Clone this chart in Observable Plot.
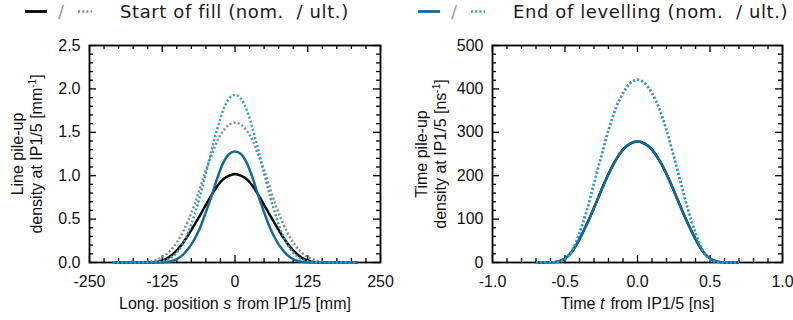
<!DOCTYPE html>
<html>
<head>
<meta charset="utf-8">
<script src="https://cdn.jsdelivr.net/npm/d3@7"></script>
<script src="https://cdn.jsdelivr.net/npm/@observablehq/plot@0.6"></script>
<style>
  body { margin: 0; background: #fff; }
  #wrap { position: relative; width: 793px; height: 320px; overflow: hidden; background: #fff; }
  #plots { position: absolute; left: 0; top: 0; display: flex; z-index: 1; }
  #legend { position: absolute; left: 0; top: 0; z-index: 2; }
  svg { display: block; }
</style>
</head>
<body>
<div id="wrap"><div id="plots"></div><div id="legend"></div></div>
<script>
// ---------- data ----------
// Left panel: longitudinal position s [mm]
const sPos = [-210,-170,-150,-140,-130,-120,-110,-100,-90,-80,-70,-60,-50,-40,-30,-20,-10,0,10,20,30,40,50,60,70,80,90,100,110,120,130,140,150,170,210];
const lineStartNom = [0,0,0.001,0.004,0.013,0.036,0.078,0.14,0.22,0.32,0.43,0.545,0.665,0.78,0.885,0.96,1.00,1.02,1.00,0.96,0.885,0.78,0.665,0.545,0.43,0.32,0.22,0.14,0.078,0.036,0.013,0.004,0.001,0,0];
const lineStartUlt = [0,0.001,0.008,0.02,0.045,0.085,0.145,0.23,0.345,0.49,0.66,0.86,1.06,1.24,1.41,1.52,1.59,1.61,1.59,1.52,1.41,1.24,1.06,0.86,0.66,0.49,0.345,0.23,0.145,0.085,0.045,0.02,0.008,0.001,0];
const lineEndNom = [0,0,0,0,0.001,0.005,0.015,0.04,0.085,0.16,0.265,0.40,0.58,0.77,0.98,1.15,1.25,1.28,1.25,1.15,0.98,0.77,0.58,0.40,0.265,0.16,0.085,0.04,0.015,0.005,0.001,0,0,0,0];
const lineEndUlt = [0,0,0.001,0.003,0.009,0.024,0.055,0.115,0.21,0.35,0.54,0.77,1.03,1.30,1.55,1.76,1.89,1.93,1.89,1.76,1.55,1.30,1.03,0.77,0.54,0.35,0.21,0.115,0.055,0.024,0.009,0.003,0.001,0,0];

// Right panel: time t [ns]
const tPos = [-0.7,-0.6,-0.55,-0.5,-0.45,-0.4,-0.35,-0.3,-0.25,-0.2,-0.15,-0.1,-0.05,0,0.05,0.1,0.15,0.2,0.25,0.3,0.35,0.4,0.45,0.5,0.55,0.6,0.7];
const timeStartNom = [0,0.3,2,9,26,54,88,126,166,204,236,260,274,279,274,260,236,204,166,126,88,54,26,9,2,0.3,0];
const timeStartUlt = [0,0.2,1.5,7,28,68,120,182,245,305,355,390,413,421,413,390,355,305,245,182,120,68,28,7,1.5,0.2,0];
const timeEndNom = [0,0.3,2,9,26,54,88,126,166,204,236,260,274,279,274,260,236,204,166,126,88,54,26,9,2,0.3,0];
const timeEndUlt = [0,0.2,1.5,7,28,68,120,182,245,305,355,390,413,421,413,390,355,305,245,182,120,68,28,7,1.5,0.2,0];

// ticks
const sMajor = [-250,-125,0,125,250];
const sMinor = [-225,-200,-175,-150,-100,-75,-50,-25,25,50,75,100,150,175,200,225];
const lineMajor = [0,0.5,1.0,1.5,2.0,2.5];
const lineMinor = [0.1,0.2,0.3,0.4,0.6,0.7,0.8,0.9,1.1,1.2,1.3,1.4,1.6,1.7,1.8,1.9,2.1,2.2,2.3,2.4];
const tMajor = [-1.0,-0.5,0,0.5,1.0];
const tMinor = [-0.9,-0.8,-0.7,-0.6,-0.4,-0.3,-0.2,-0.1,0.1,0.2,0.3,0.4,0.6,0.7,0.8,0.9];
const timeMajor = [0,100,200,300,400,500];
const timeMinor = [20,40,60,80,120,140,160,180,220,240,260,280,320,340,360,380,420,440,460,480];

// series styling
const series = [
  {key: "startNom", color: "#000000", dash: null},
  {key: "startUlt", color: "#8a8a8a", dash: "2,2.2"},
  {key: "endNom",   color: "#0f6b98", dash: null},
  {key: "endUlt",   color: "#2a9fd3", dash: "2,2.2"}
];
const legendTexts = ["Start of fill (nom.  / ult.)", "End of levelling (nom.  / ult.)"];

const H = 320, MT = 45, MB = 58;
const fontTick = "Liberation Sans, Arial, Helvetica, sans-serif";
const FS = 16;

function toRows(xs, arrs) {
  const rows = [];
  series.forEach((s, i) => xs.forEach((x, j) => rows.push({x, y: arrs[i][j], key: s.key})));
  return rows;
}

function panel(o) {
  const innerH = H - MT - MB;
  const innerW = o.width - o.marginLeft - o.marginRight;
  const rows = toRows(o.xs, o.arrs);
  const lineMarks = series.map(s => Plot.line(rows.filter(r => r.key === s.key), {
    x: "x", y: "y", stroke: s.color, strokeWidth: 2.5,
    strokeDasharray: s.dash, strokeLinecap: "butt", curve: "monotone-x"
  }));
  const tk = {stroke: "black", strokeWidth: 1.3};
  const svg = Plot.plot({
    width: o.width, height: H,
    marginTop: MT, marginBottom: MB, marginLeft: o.marginLeft, marginRight: o.marginRight,
    style: {fontFamily: fontTick, fontSize: FS + "px", color: "#111", background: "white"},
    x: {domain: o.xDomain},
    y: {domain: o.yDomain},
    marks: [
      Plot.frame({stroke: "black", strokeWidth: 1.8}),
      Plot.tickX(o.xMinor, {x: d => d, insetTop: innerH - 4, ...tk}),
      Plot.tickX(o.xMinor, {x: d => d, insetBottom: innerH - 4, ...tk}),
      Plot.tickX(o.xMajor, {x: d => d, insetTop: innerH - 7, ...tk}),
      Plot.tickX(o.xMajor, {x: d => d, insetBottom: innerH - 7, ...tk}),
      Plot.tickY(o.yMinor, {y: d => d, insetRight: innerW - 4, ...tk}),
      Plot.tickY(o.yMinor, {y: d => d, insetLeft: innerW - 4, ...tk}),
      Plot.tickY(o.yMajor, {y: d => d, insetRight: innerW - 7, ...tk}),
      Plot.tickY(o.yMajor, {y: d => d, insetLeft: innerW - 7, ...tk}),
      ...lineMarks,
      Plot.axisX(o.xMajor, {tickSize: 0, tickPadding: 13, tickFormat: o.xFmt, label: null, fontSize: FS}),
      Plot.axisY(o.yMajor, {tickSize: 0, tickPadding: 9, tickFormat: o.yFmt, label: null, fontSize: FS}),
      Plot.text([o.xLabel], {frameAnchor: "bottom", dy: 41, lineAnchor: "middle", textAnchor: "middle", text: d => d, fontSize: FS}),
      Plot.text([o.yLabel], {frameAnchor: "left", dx: o.yLabelDx, rotate: -90, lineAnchor: "middle", textAnchor: "middle", lineHeight: 1.15, text: d => d, fontSize: FS})
    ]
  });
  // italic variable in x label
  d3.select(svg).selectAll("text").each(function() {
    if (this.childElementCount === 0 && this.textContent === o.xLabel) {
      const t = d3.select(this).text(null);
      t.append("tspan").text(o.xParts[0]);
      t.append("tspan").attr("font-style", "italic").text(o.xParts[1]);
      t.append("tspan").attr("dx", 6).text(o.xParts[2]);
    }
  });
  // superscript -1 in y label
  d3.select(svg).selectAll("tspan").each(function() {
    if (this.childElementCount === 0 && this.textContent.includes("⁻¹")) {
      const base = this.textContent.replace("⁻¹]", "");
      const t = d3.select(this).text(null);
      t.append("tspan").text(base);
      t.append("tspan").attr("dy", -6).attr("font-size", 10).text("-1");
      t.append("tspan").attr("dy", 6).text("]");
    }
  });
  return svg;
}

const left = panel({
  width: 396, marginLeft: 89, marginRight: 16,
  xs: sPos, arrs: [lineStartNom, lineStartUlt, lineEndNom, lineEndUlt],
  xDomain: [-250, 250], yDomain: [0, 2.5],
  xMajor: sMajor, xMinor: sMinor, yMajor: lineMajor, yMinor: lineMinor,
  xFmt: d => String(d), yFmt: d => d.toFixed(1),
  xLabel: "Long. position s from IP1/5 [mm]", xParts: ["Long. position ", "s", "from IP1/5 [mm]"],
  yLabel: "Line pile-up\ndensity at IP1/5 [mm⁻¹]", yLabelDx: -63
});
const right = panel({
  width: 397, marginLeft: 96, marginRight: 11,
  xs: tPos, arrs: [timeStartNom, timeStartUlt, timeEndNom, timeEndUlt],
  xDomain: [-1, 1], yDomain: [0, 500],
  xMajor: tMajor, xMinor: tMinor, yMajor: timeMajor, yMinor: timeMinor,
  xFmt: d => d.toFixed(1), yFmt: d => String(d),
  xLabel: "Time t from IP1/5 [ns]", xParts: ["Time ", "t", "from IP1/5 [ns]"],
  yLabel: "Time pile-up\ndensity at IP1/5 [ns⁻¹]", yLabelDx: -62
});
document.getElementById("plots").append(left, right);

// ---------- legend ----------
const lg = d3.select("#legend").append("svg").attr("width", 793).attr("height", 28);
const items = [
  {x: 25, a: series[0], b: series[1], text: legendTexts[0], tx: 120},
  {x: 418, a: series[2], b: series[3], text: legendTexts[1], tx: 513}
];
items.forEach(it => {
  lg.append("line").attr("x1", it.x).attr("x2", it.x + 22).attr("y1", 11.5).attr("y2", 11.5)
    .attr("stroke", it.a.color).attr("stroke-width", 2.8);
  lg.append("text").attr("x", it.x + 36).attr("y", 18).attr("text-anchor", "middle")
    .attr("font-family", "DejaVu Sans, sans-serif").attr("font-size", 18)
    .attr("fill", "#9a9a9a").text("/");
  lg.append("line").attr("x1", it.x + 53).attr("x2", it.x + 67).attr("y1", 11.5).attr("y2", 11.5)
    .attr("stroke", it.b.color).attr("stroke-width", 2.5).attr("stroke-dasharray", "2,2.2");
  lg.append("text").attr("x", it.tx).attr("y", 17.5)
    .attr("font-family", "DejaVu Sans, sans-serif").attr("font-size", 18)
    .attr("letter-spacing", 0.6).style("white-space", "pre")
    .attr("fill", "#1a1a1a").text(it.text);
});
</script>
</body>
</html>
